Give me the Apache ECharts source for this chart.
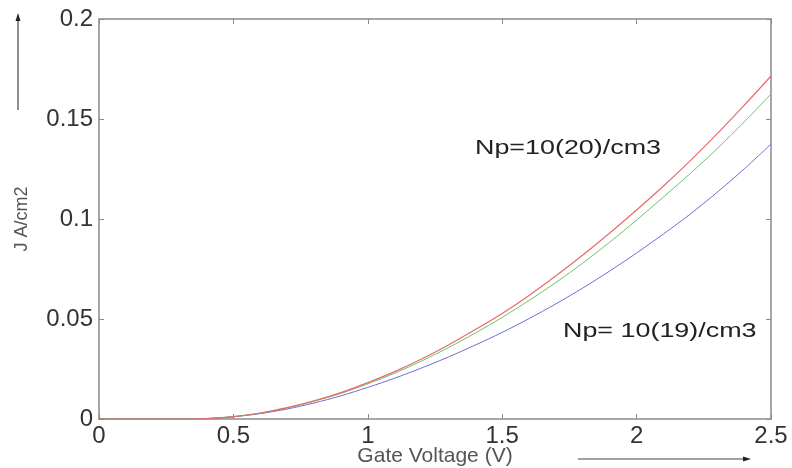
<!DOCTYPE html>
<html>
<head>
<meta charset="utf-8">
<script src="https://cdn.jsdelivr.net/npm/echarts@6/dist/echarts.min.js"></script>
<style>
  html, body { margin: 0; padding: 0; background: #ffffff; }
  #chart { width: 792px; height: 468px; }
</style>
</head>
<body>
<div id="chart"></div>
<script>
// Gate voltage (V)
const volts = [0, 0.1, 0.2, 0.3, 0.35, 0.4, 0.5, 0.6, 0.7, 0.8, 0.9, 1.0, 1.1, 1.2, 1.3, 1.4, 1.5, 1.6, 1.7, 1.8, 1.9, 2.0, 2.1, 2.2, 2.3, 2.4, 2.5];
// Current density J (A/cm2)
const jRed   = [0, 0, 0, 0, 0, 0.0002, 0.0012, 0.0030, 0.0057, 0.0091, 0.0132, 0.0182, 0.0237, 0.0300, 0.0370, 0.0447, 0.0528, 0.0618, 0.0716, 0.0820, 0.0930, 0.1045, 0.1165, 0.1292, 0.1427, 0.1568, 0.1715];
const jGreen = [0, 0, 0, 0, 0, 0.0002, 0.0012, 0.0029, 0.0055, 0.0089, 0.0128, 0.0176, 0.0229, 0.0290, 0.0357, 0.0430, 0.0508, 0.0593, 0.0683, 0.0780, 0.0884, 0.0995, 0.1110, 0.1228, 0.1352, 0.1485, 0.1625];
const jBlue  = [0, 0, 0, 0, 0, 0.0002, 0.0011, 0.0027, 0.0050, 0.0080, 0.0116, 0.0158, 0.0204, 0.0255, 0.0310, 0.0370, 0.0433, 0.0502, 0.0576, 0.0655, 0.0740, 0.0830, 0.0925, 0.1025, 0.1134, 0.1250, 0.1375];
const xTicks = [0, 0.5, 1, 1.5, 2, 2.5];
const yTicks = [0, 0.05, 0.1, 0.15, 0.2];
const labelHigh = 'Np=10(20)/cm3';
const labelLow = 'Np= 10(19)/cm3';
const xName = 'Gate Voltage (V)';
const yName = 'J A/cm2';

const pairs = ys => volts.map((v, i) => [v, ys[i]]);
const font = 'Liberation Sans, Arial, sans-serif';
const axisGrey = '#8a8a8a';

const chart = echarts.init(document.getElementById('chart'), null, { renderer: 'canvas' });

const baseX = {
  type: 'value', min: xTicks[0], max: xTicks[xTicks.length - 1], interval: 0.5,
  splitLine: { show: false },
  axisLine: { show: true, onZero: false, lineStyle: { color: axisGrey, width: 1.5 } },
  axisTick: { show: true, inside: true, length: 5, lineStyle: { color: axisGrey, width: 1 } }
};
const baseY = {
  type: 'value', min: yTicks[0], max: yTicks[yTicks.length - 1], interval: 0.05,
  splitLine: { show: false },
  axisLine: { show: true, onZero: false, lineStyle: { color: axisGrey, width: 1.5 } },
  axisTick: { show: true, inside: true, length: 5, lineStyle: { color: axisGrey, width: 1 } }
};

chart.setOption({
  animation: false,
  backgroundColor: '#ffffff',
  grid: { left: 99, right: 21, top: 19, bottom: 49, containLabel: false, outerBoundsMode: 'none' },
  xAxis: [
    Object.assign({}, baseX, {
      position: 'bottom',
      axisLabel: { fontSize: 24, color: '#333', margin: 5, fontFamily: font },
      name: xName, nameLocation: 'middle', nameGap: 27, nameMoveOverlap: false,
      nameTextStyle: { fontSize: 21, color: '#555', fontFamily: font }
    }),
    Object.assign({}, baseX, { position: 'top', axisLabel: { show: false } })
  ],
  yAxis: [
    Object.assign({}, baseY, {
      position: 'left',
      axisLabel: { fontSize: 24, color: '#333', margin: 6, fontFamily: font },
      name: yName, nameLocation: 'middle', nameGap: 68, nameMoveOverlap: false,
      nameTextStyle: { fontSize: 18, color: '#555', fontFamily: font }
    }),
    Object.assign({}, baseY, { position: 'right', axisLabel: { show: false } })
  ],
  series: [
    { type: 'line', data: pairs(jBlue), showSymbol: false, smooth: 0.3, lineStyle: { color: '#6f6fd0', width: 1 }, z: 3 },
    { type: 'line', data: pairs(jGreen), showSymbol: false, smooth: 0.3, lineStyle: { color: '#6cc06c', width: 1 }, z: 4 },
    { type: 'line', data: pairs(jRed), showSymbol: false, smooth: 0.3, lineStyle: { color: '#e86a6a', width: 1.2 }, z: 5 }
  ],
  graphic: [
    { type: 'text', left: 475, top: 138, style: { text: labelHigh, fontSize: 21, fill: '#222', font: '21px Liberation Sans' }, scaleX: 1.28 },
    { type: 'text', left: 563, top: 321, style: { text: labelLow, fontSize: 21, fill: '#222', font: '21px Liberation Sans' }, scaleX: 1.28 },
    { type: 'line', shape: { x1: 18, y1: 110, x2: 18, y2: 20 }, style: { stroke: '#444', lineWidth: 1.2 } },
    { type: 'polygon', shape: { points: [[18, 13], [15.5, 21], [20.5, 21]] }, style: { fill: '#222' } },
    { type: 'line', shape: { x1: 578, y1: 459, x2: 744, y2: 459 }, style: { stroke: '#444', lineWidth: 1.2 } },
    { type: 'polygon', shape: { points: [[751, 459], [743, 456.5], [743, 461.5]] }, style: { fill: '#222' } }
  ]
});
</script>
</body>
</html>
